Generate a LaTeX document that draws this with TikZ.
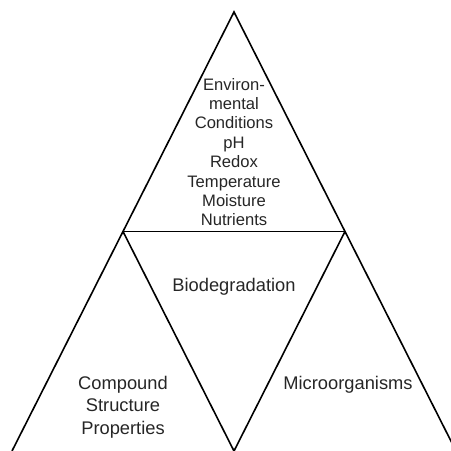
\documentclass[tikz,border=0pt]{standalone}
\usepackage{fontspec}
\setmainfont{Liberation Sans}
\begin{document}
\begin{tikzpicture}[x=1pt,y=1pt,
  edge/.style={line width=1.6pt, black, line join=miter},
  small/.style={align=center, text=black!85, font=\fontsize{16.6}{19.4}\selectfont, inner sep=0pt},
  big/.style={align=center, text=black!85, font=\fontsize{18.3}{22.5}\selectfont, inner sep=0pt}]
\useasboundingbox (0,0) rectangle (451,451);
\clip (0,0) rectangle (451,451);
\coordinate (A) at (234,439);
\coordinate (L) at (12,0);
\coordinate (R) at (456,0);
\coordinate (ML) at (123,219.5);
\coordinate (MR) at (345,219.5);
\coordinate (B) at (234,0);
\draw[edge] (L) -- (A) -- (R);
\draw[edge] (ML) -- (MR);
\draw[edge] (ML) -- (B) -- (MR);
\node[small] (env) at (234,299) {Environ-\\mental\\Conditions\\pH\\Redox\\Temperature\\Moisture\\Nutrients};
\node[big] (bio) at (234,164) {Biodegradation};
\node[big] (comp) at (123,44) {Compound\\Structure\\Properties};
\node[big] (micro) at (348,66) {Microorganisms};
\end{tikzpicture}
\end{document}
